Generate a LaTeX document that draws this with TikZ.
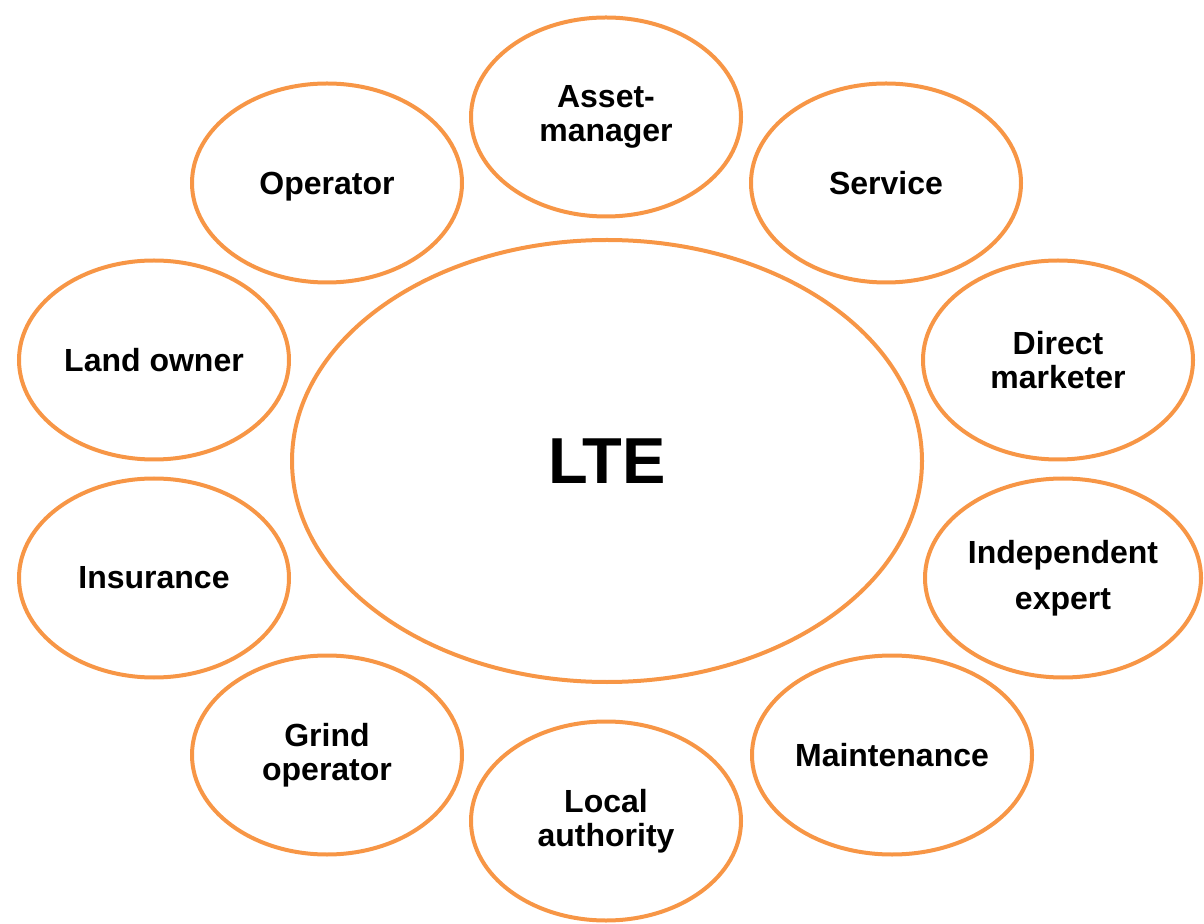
\documentclass[tikz,border=0pt]{standalone}
\usepackage{fontspec}
\setmainfont{Liberation Sans}
\usetikzlibrary{shapes.geometric}

\definecolor{ringorange}{HTML}{F79646}

\begin{document}
\begin{tikzpicture}[x=0.5pt, y=-0.5pt,
                    role/.style={ellipse, draw=ringorange, line width=2pt,
                                 minimum height=99.5pt, inner sep=0pt, align=center,
                                 font=\fontsize{16}{17}\selectfont\bfseries}
                   ]
\useasboundingbox (0,0) rectangle (1204,924);

% the centre
\node [role, minimum width=315pt, minimum height=221pt,
       font=\fontsize{32.5}{36}\selectfont\bfseries] (lte) at (607,461) {LTE};

% the ring of parties around it
\foreach \x/\y/\w/\id/\txt in {
    606/117/135/asset/{Asset-\\manager},
    886/183/135/service/{Service},
    327/183/135/operator/{\raisebox{0pt}[\height][0pt]{Operator}},
    154/360/135/landowner/{Land owner},
    1058/360/135/marketer/{Direct\\marketer},
    154/578/135/insurance/{Insurance},
    1063/578/138/expert/{Independent\\[6pt]expert},
    327/755/135/grid/{Grind\\operator},
    892/755/140/maintenance/{Maintenance},
    606/821/135/authority/{Local\\authority}}
{
    \node [role, minimum width=\w pt] (\id) at (\x,\y) {\txt};
}
\end{tikzpicture}
\end{document}
